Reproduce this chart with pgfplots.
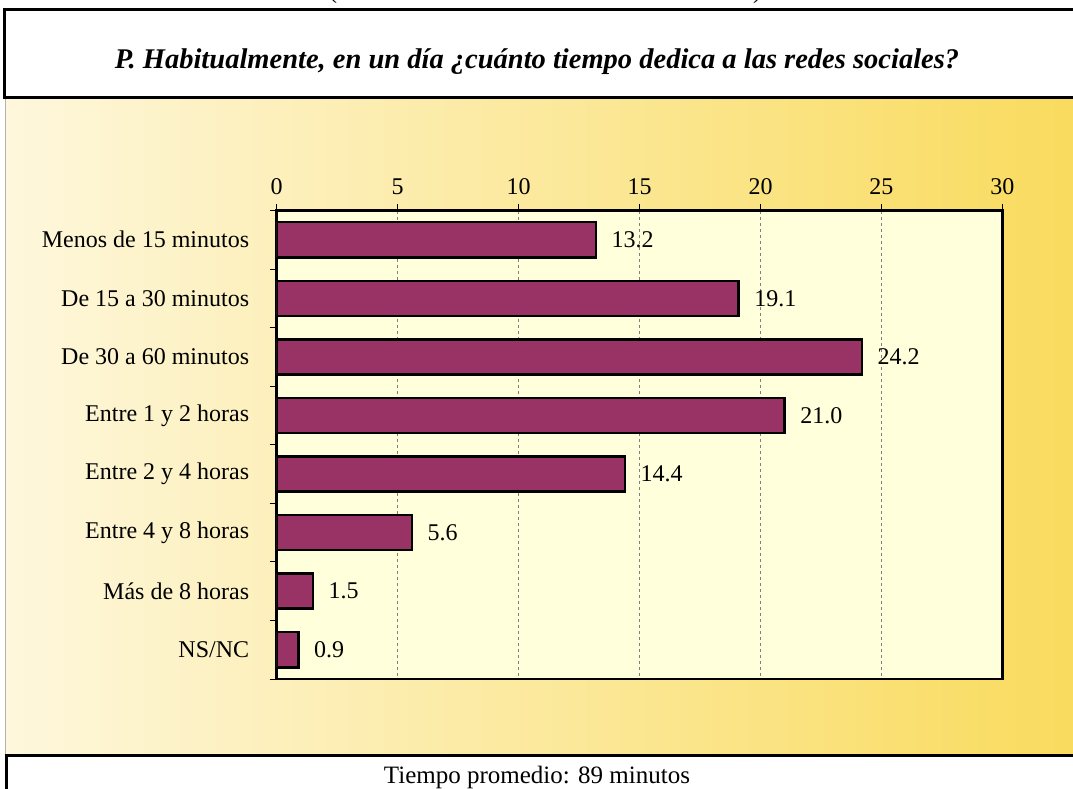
\documentclass[border=0pt]{standalone}
\usepackage{pgfplots}
\pgfplotsset{compat=1.18}
\usepackage{fontspec}
\setmainfont{Liberation Serif}
\definecolor{barcol}{HTML}{993366}
\definecolor{plotbg}{HTML}{FFFFDB}
\definecolor{gL}{HTML}{FEF7DC}
\definecolor{gM}{HTML}{FCE8A6}
\definecolor{gR}{HTML}{F9DB5E}
\begin{document}
\begin{tikzpicture}[x=1pt,y=1pt]
\useasboundingbox (0,0) rectangle (1073,789);
\clip (0,0) rectangle (1073,789);
\shade[left color=gL, middle color=gM, right color=gR] (5,33) rectangle (1073,691);
\draw[gray!60, line width=1] (5,33) -- (5,691);
\node[anchor=base, inner sep=0pt] at (333,790) {\fontsize{24}{28}\selectfont (};
\node[anchor=base, inner sep=0pt] at (757,790) {\fontsize{24}{28}\selectfont )};
\draw[line width=3, fill=white] (4,779) rectangle (1090,691);
\node at (537,727) {\fontsize{28.5}{32}\selectfont\bfseries\itshape P. Habitualmente, en un día ¿cuánto tiempo dedica a las redes sociales?};
\draw[line width=3, fill=white] (6.5,33) rectangle (1090,-10);
\node at (537,12) {\fontsize{25}{30}\selectfont Tiempo promedio: 89 minutos};
\begin{axis}[
  at={(276.7pt,110pt)}, anchor=south west,
  width=725.7pt, height=468.5pt, scale only axis,
  xmin=0, xmax=30, ymin=-0.5, ymax=7.5, y dir=reverse,
  xbar, bar width=0.6,
  axis background/.style={fill=plotbg},
  axis line style={line width=2.5pt},
  xtick={0,5,...,30}, minor xtick={0,5,...,30},
  xtick pos=right, xticklabel pos=right,
  ytick={0,...,7}, minor ytick={-0.5,0.5,...,7.5},
  ytick pos=left,
  yticklabels={Menos de 15 minutos, De 15 a 30 minutos, De 30 a 60 minutos, Entre 1 y 2 horas, Entre 2 y 4 horas, Entre 4 y 8 horas, Más de 8 horas, NS/NC},
  major tick length=0pt, minor tick length=7pt, tick align=outside,
  tick style={black, line width=1pt},
  xmajorgrids, major x grid style={dashed, gray, line width=0.7pt},
  ticklabel style={font=\fontsize{24}{28}\selectfont},
  yticklabel style={xshift=-24pt},
  xticklabel style={yshift=12pt},
  /pgf/number format/assume math mode=true,
  nodes near coords, nodes near coords align=horizontal,
  every node near coord/.append style={font=\fontsize{24}{28}\selectfont, text=black, xshift=11pt,
    /pgf/number format/.cd, fixed, fixed zerofill, precision=1, assume math mode=true},
]
\addplot[fill=barcol, draw=black, line width=2.5pt] coordinates {(13.2,0) (19.1,1) (24.2,2) (21.0,3) (14.4,4) (5.6,5) (1.5,6) (0.9,7)};
\end{axis}
\end{tikzpicture}
\end{document}
